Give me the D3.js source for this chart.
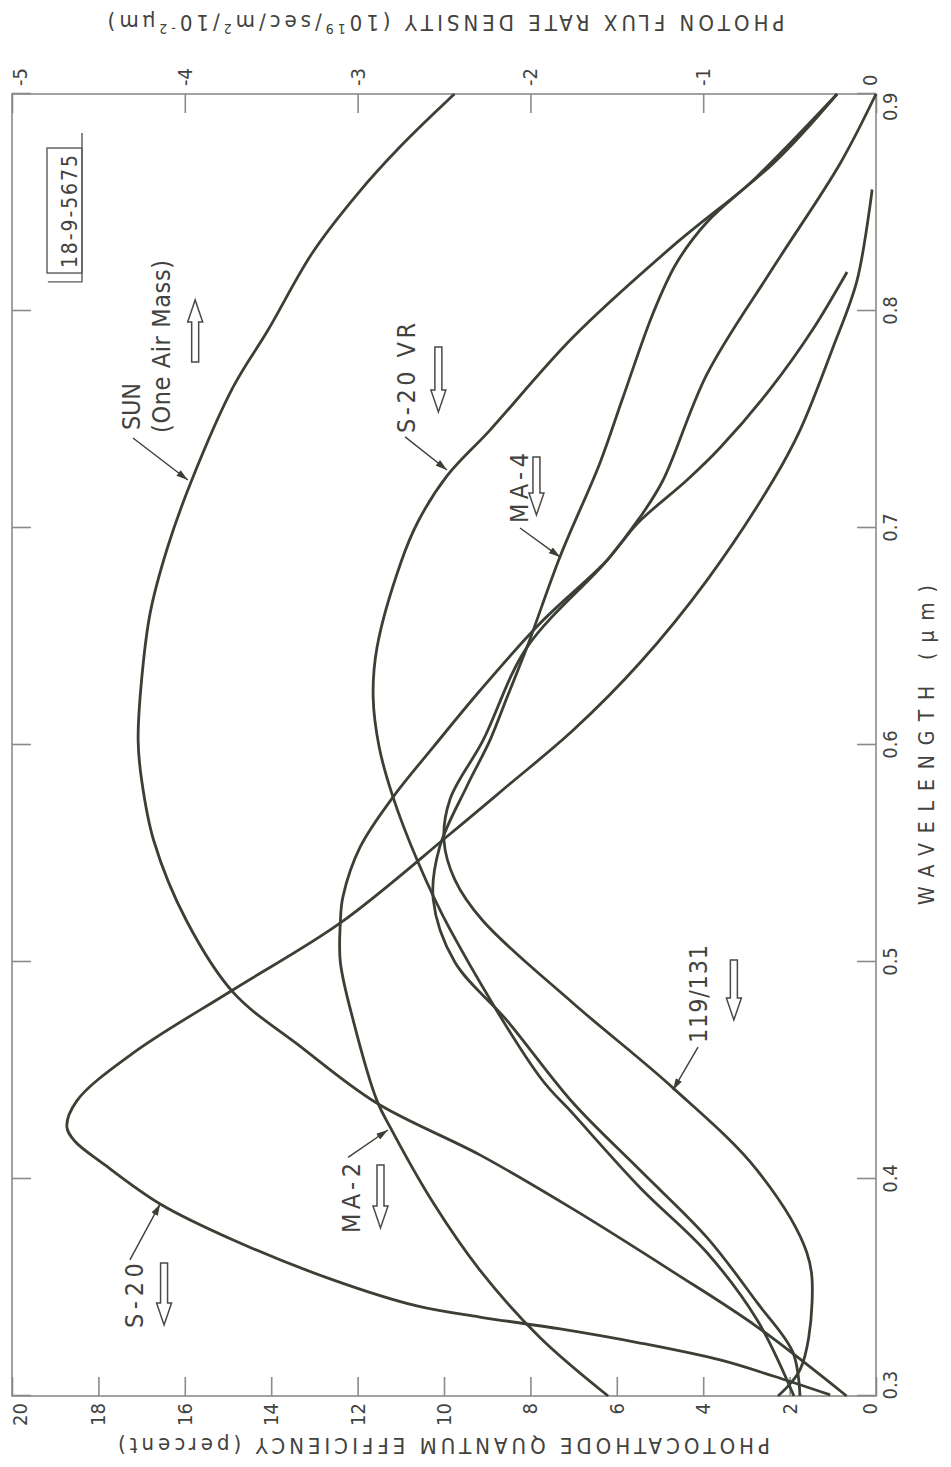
<!DOCTYPE html>
<meta charset="utf-8">
<script src="https://cdnjs.cloudflare.com/ajax/libs/d3/7.8.5/d3.min.js"></script>
<style>
  body { margin: 0; background: #fff; }
  text { font-family: "DejaVu Sans Condensed", "DejaVu Sans", sans-serif; fill: #42423e; }
</style>
<body>
<script>

// tick values of the three axes
var wavelengthTicks = [0.3, 0.4, 0.5, 0.6, 0.7, 0.8, 0.9];
var qeTicks = [0, 2, 4, 6, 8, 10, 12, 14, 16, 18, 20];
var fluxTicks = [0, 1, 2, 3, 4, 5];

// curves: [wavelength (um), quantum efficiency (%)]
var s20 = [[0.3005,1.06],[0.3092,2.38],[0.3166,3.61],[0.3244,5.46],[0.3309,7.31],[0.3364,9.17],[0.3415,10.63],
  [0.3535,12.57],[0.3719,14.88],[0.3885,16.57],[0.4065,17.85],[0.4175,18.55],[0.424,18.73],[0.436,18.5],[0.458,17.2],
  [0.487,14.9],[0.518,12.4],[0.559,9.86],[0.581,8.54],[0.607,7.0],[0.638,5.46],[0.676,3.91],[0.722,2.38],
  [0.745,1.76],[0.783,1.0],[0.814,0.44],[0.856,0.09]];
var s20vr = [[0.300,1.9],[0.335,2.75],[0.366,3.91],[0.396,5.46],[0.430,7.01],[0.447,7.78],[0.515,9.86],
  [0.546,10.6],[0.576,11.18],[0.599,11.5],[0.622,11.64],[0.645,11.55],[0.684,11.0],[0.703,10.6],[0.724,9.93],
  [0.745,8.94],[0.788,7.01],[0.830,4.70],[0.868,2.38],[0.900,0.90]];
var ma2 = [[0.300,6.2],[0.327,7.78],[0.358,9.17],[0.389,10.25],[0.424,11.25],[0.436,11.55],[0.473,12.1],
  [0.500,12.4],[0.518,12.4],[0.530,12.34],[0.553,11.94],[0.576,11.18],[0.599,10.25],[0.625,9.17],[0.656,7.78],
  [0.685,6.23],[0.702,5.53],[0.722,4.38],[0.737,3.61],[0.764,2.45],[0.791,1.48],[0.818,0.67]];
var ma4 = [[0.300,1.76],[0.320,1.92],[0.343,2.75],[0.373,3.91],[0.404,5.46],[0.435,7.01],[0.473,8.54],
  [0.500,9.75],[0.529,10.25],[0.553,10.1],[0.581,9.47],[0.602,8.94],[0.622,8.54],[0.645,8.08],[0.687,7.31],
  [0.730,6.39],[0.760,5.86],[0.799,5.16],[0.822,4.62],[0.841,3.91],[0.862,2.75],[0.900,0.90]];
var tube119 = [[0.300,2.27],[0.312,1.76],[0.343,1.48],[0.366,1.60],[0.404,2.75],[0.442,4.70],[0.481,7.01],
  [0.519,9.10],[0.538,9.75],[0.556,10.0],[0.575,9.86],[0.602,9.10],[0.645,8.08],[0.685,6.23],[0.705,5.46],
  [0.722,4.93],[0.771,3.91],[0.820,2.38],[0.868,0.83],[0.900,0.0]];

// sun, one air mass: [wavelength (um), photon flux (10^19/sec/m^2/10^-2 um)]
var sun = [[0.300,0.17],[0.332,0.69],[0.357,1.17],[0.386,1.75],[0.411,2.29],[0.435,2.89],[0.461,3.33],
  [0.486,3.72],[0.519,3.99],[0.556,4.18],[0.584,4.25],[0.602,4.27],[0.630,4.25],[0.661,4.20],[0.691,4.10],
  [0.722,3.96],[0.765,3.72],[0.791,3.52],[0.827,3.26],[0.854,3.00],[0.876,2.75],[0.900,2.44]];

// curve labels: text start, leader tail and tip, hollow arrow (tail, tip) - all in [wavelength, QE]
var labels = [
  {lines: ["SUN", "(One Air Mass)"], at: [[0.7452,17.04],[0.7438,16.34]], len: [47,173],
   tail: [0.7415,17.2], tip: [0.7221,15.93], arrow: [[0.7765,15.76],[0.8051,15.76]]},
  {lines: ["S-20 VR"], at: [[0.7438,10.67]], len: [110],
   tail: [0.742,10.9], tip: [0.7267,9.93], arrow: [[0.7834,10.13],[0.7535,10.13]]},
  {lines: ["MA-4"], at: [[0.7023,8.06]], len: [70],
   tail: [0.700,8.24], tip: [0.6866,7.31], arrow: [[0.7327,7.86],[0.706,7.86]]},
  {lines: ["MA-2"], at: [[0.3751,11.94]], len: [70],
   tail: [0.410,12.22], tip: [0.4226,11.30], arrow: [[0.4065,11.47],[0.3774,11.47]]},
  {lines: ["S-20"], at: [[0.3313,16.97]], len: [65],
   tail: [0.3627,17.27], tip: [0.3885,16.57], arrow: [[0.3613,16.48],[0.3327,16.48]]},
  {lines: ["119/131"], at: [[0.4627,3.91]], len: [98],
   tail: [0.4608,4.12], tip: [0.441,4.70], arrow: [[0.5009,3.29],[0.4733,3.29]]}
];

var margin = {left: 12, top: 94},
    width = 1302,   // wavelength axis length
    height = 864;   // efficiency axis length

var curveColor = "#3b4034", frameColor = "#8a8a88";

var svg = d3.select("body").append("svg")
    .attr("width", 951)
    .attr("height", 1467);

// the chart is drawn the usual way round, then turned a quarter turn counter-clockwise
var g = svg.append("g")
    .attr("transform", "translate(" + margin.left + "," + (margin.top + width) + ") rotate(-90)");

var x = d3.scaleLinear().domain([0.3, 0.9]).range([0, width]);
var y = d3.scaleLinear().domain([0, 20]).range([height, 0]);
var y2 = d3.scaleLinear().domain([0, 5]).range([height, 0]);

function styleAxis(sel) {
  sel.select(".domain").remove();
  sel.selectAll(".tick line").attr("stroke", frameColor).attr("stroke-width", 1.6);
  sel.selectAll(".tick text").attr("font-size", 20).attr("fill", "#42423e")
    .attr("font-family", "DejaVu Sans Condensed, DejaVu Sans, sans-serif");
}

// wavelength axis (bottom, turns into the right side)
var xb = g.append("g")
    .attr("transform", "translate(0," + height + ")")
    .call(d3.axisBottom(x).tickValues(wavelengthTicks).tickSize(-19).tickSizeOuter(0).tickPadding(7)
      .tickFormat(d3.format(".1f")))
    .call(styleAxis);
xb.selectAll(".tick text").filter(function(d) { return d === 0.3; }).attr("text-anchor", "start").attr("x", -4);
xb.selectAll(".tick text").filter(function(d) { return d === 0.9; }).attr("text-anchor", "end").attr("x", 1);

g.append("g")
    .call(d3.axisTop(x).tickValues(wavelengthTicks).tickSize(-19).tickSizeOuter(0).tickFormat(""))
    .call(styleAxis);

// quantum efficiency axis (left, turns into the bottom)
var yl = g.append("g")
    .call(d3.axisLeft(y).tickValues(qeTicks).tickSize(-19).tickSizeOuter(0).tickPadding(7))
    .call(styleAxis);
yl.selectAll(".tick text").filter(function(d) { return d === 0; }).attr("dy", "0em");
yl.selectAll(".tick text").filter(function(d) { return d === 20; }).attr("dy", "0.7em");

// photon flux axis (right, turns into the top)
var yr = g.append("g")
    .attr("transform", "translate(" + width + ",0)")
    .call(d3.axisRight(y2).tickValues(fluxTicks).tickSize(-19).tickSizeOuter(0).tickPadding(8)
      .tickFormat(function(d) { return d ? "-" + d : "0"; }))
    .call(styleAxis);
yr.selectAll(".tick text").filter(function(d) { return d === 0; }).attr("dy", "0em");
yr.selectAll(".tick text").filter(function(d) { return d === 5; }).attr("dy", "0.7em");

// frame
g.append("rect")
    .attr("width", width).attr("height", height)
    .attr("fill", "none").attr("stroke", frameColor).attr("stroke-width", 1.6);

// curves
var qeLine = d3.line()
    .x(function(d) { return x(d[0]); })
    .y(function(d) { return y(d[1]); })
    .curve(d3.curveCatmullRom.alpha(0.5));
var fluxLine = d3.line()
    .x(function(d) { return x(d[0]); })
    .y(function(d) { return y2(d[1]); })
    .curve(d3.curveCatmullRom.alpha(0.5));

[s20, s20vr, ma2, ma4, tube119].forEach(function(series) {
  g.append("path").datum(series)
      .attr("d", qeLine)
      .attr("fill", "none").attr("stroke", curveColor).attr("stroke-width", 2.8);
});
g.append("path").datum(sun)
    .attr("d", fluxLine)
    .attr("fill", "none").attr("stroke", curveColor).attr("stroke-width", 2.8);

// arrow head for the leader lines
svg.append("defs").append("marker")
    .attr("id", "tip").attr("viewBox", "0 0 10 6").attr("refX", 10).attr("refY", 3)
    .attr("markerWidth", 12).attr("markerHeight", 7).attr("markerUnits", "userSpaceOnUse")
    .attr("orient", "auto")
  .append("path").attr("d", "M0,0L10,3L0,6Z").attr("fill", curveColor);

// hollow block arrow from tail to tip (both in chart units)
function blockArrow(a) {
  var u0 = x(a[0][0]), u1 = x(a[1][0]), v = y(a[0][1]);
  var dir = u1 > u0 ? 1 : -1, len = Math.abs(u1 - u0), head = 22, sw = 3.5, hw = 7.5;
  var pts = [[0, -sw], [len - head, -sw], [len - head, -hw], [len, 0], [len - head, hw], [len - head, sw], [0, sw]];
  return "M" + pts.map(function(p) { return (u0 + dir * p[0]) + "," + (v + p[1]); }).join("L") + "Z";
}

labels.forEach(function(l) {
  l.lines.forEach(function(t, i) {
    g.append("text")
        .attr("x", x(l.at[i][0])).attr("y", y(l.at[i][1]))
        .attr("font-size", 25)
        .attr("textLength", l.len[i]).attr("lengthAdjust", "spacing")
        .text(t);
  });
  g.append("line")
      .attr("x1", x(l.tail[0])).attr("y1", y(l.tail[1]))
      .attr("x2", x(l.tip[0])).attr("y2", y(l.tip[1]))
      .attr("stroke", curveColor).attr("stroke-width", 1.4)
      .attr("marker-end", "url(#tip)");
  g.append("path")
      .attr("d", blockArrow(l.arrow))
      .attr("fill", "#fff").attr("stroke", "#4a4a46").attr("stroke-width", 1.5);
});

// drawing number box
var box = g.append("g");
box.append("rect")
    .attr("x", x(0.8175)).attr("y", y(19.19))
    .attr("width", 125).attr("height", 35)
    .attr("fill", "none").attr("stroke", "#5a5a56").attr("stroke-width", 1.4);
box.append("path")
    .attr("d", "M" + x(0.8134) + "," + y(19.17) + "V" + y(18.38) + "H" + x(0.882))
    .attr("fill", "none").attr("stroke", "#5a5a56").attr("stroke-width", 1.4);
box.append("text")
    .attr("x", x(0.8198)).attr("y", y(18.50))
    .attr("font-size", 21).attr("textLength", 113).attr("lengthAdjust", "spacing")
    .text("18-9-5675");

// axis titles
g.append("text")
    .attr("x", x(0.6)).attr("y", height + 58)
    .attr("text-anchor", "middle").attr("font-size", 21)
    .attr("textLength", 320).attr("lengthAdjust", "spacing")
    .text("WAVELENGTH (\u03bcm)");

g.append("text")
    .attr("transform", "translate(-42," + y(10) + ") rotate(-90)")
    .attr("text-anchor", "middle").attr("font-size", 22)
    .attr("textLength", 652).attr("lengthAdjust", "spacing")
    .text("PHOTOCATHODE QUANTUM EFFICIENCY (percent)");

var ft = g.append("text")
    .attr("transform", "translate(" + (width + 79) + "," + y(10) + ") rotate(-90)")
    .attr("text-anchor", "middle").attr("font-size", 22).attr("letter-spacing", 4);
ft.append("tspan").text("PHOTON FLUX RATE DENSITY (10");
ft.append("tspan").attr("dy", -9).attr("font-size", 14).text("19");
ft.append("tspan").attr("dy", 9).text("/sec/m");
ft.append("tspan").attr("dy", -9).attr("font-size", 14).text("2");
ft.append("tspan").attr("dy", 9).text("/10");
ft.append("tspan").attr("dy", -9).attr("font-size", 14).text("-2");
ft.append("tspan").attr("dy", 9).text("\u03bcm)");

</script>
</body>
